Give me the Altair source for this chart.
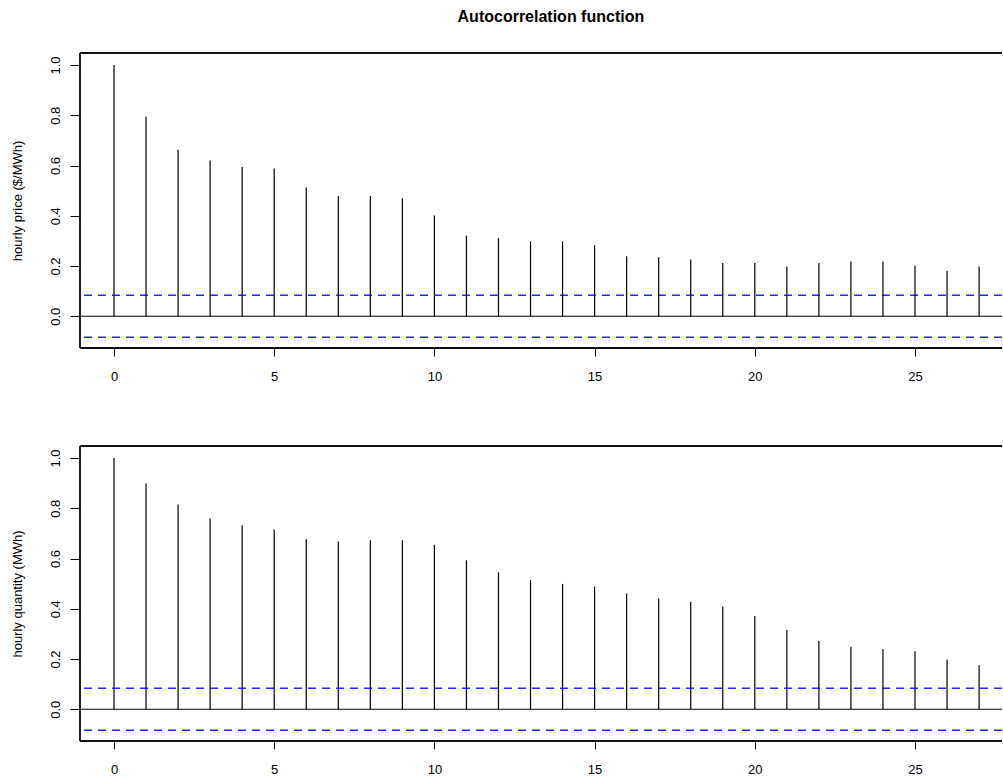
import altair as alt
import pandas as pd

lags = list(range(28))
price_acf = [1.0, 0.794, 0.663, 0.620, 0.594, 0.588, 0.513, 0.479, 0.479, 0.470,
             0.401, 0.321, 0.311, 0.298, 0.298, 0.283, 0.239, 0.235, 0.226, 0.212,
             0.212, 0.198, 0.212, 0.218, 0.218, 0.202, 0.181, 0.198]
quantity_acf = [1.0, 0.899, 0.815, 0.759, 0.731, 0.716, 0.677, 0.668, 0.673, 0.673,
                0.655, 0.593, 0.545, 0.515, 0.499, 0.489, 0.461, 0.441, 0.427, 0.409,
                0.371, 0.315, 0.272, 0.249, 0.239, 0.231, 0.197, 0.175]
ci_bounds = [0.0835, -0.0835]
x_ticks = [0, 5, 10, 15, 20, 25]
y_ticks = [0.0, 0.2, 0.4, 0.6, 0.8, 1.0]

W = 922
H = 295
FONT = "Liberation Sans"
XDOM = [-1.061, 27.715]
YDOM = [-0.1265, 1.048]


def panel(values, ytitle):
    df = pd.DataFrame({"lag": lags, "acf": values, "zero": [0.0] * len(lags)})
    xs = alt.Scale(domain=XDOM, nice=False, zero=False)
    ys = alt.Scale(domain=YDOM, nice=False, zero=False)
    bars = alt.Chart(df).mark_rule(color="black", strokeWidth=1.2).encode(
        x=alt.X("lag:Q", scale=xs,
                axis=alt.Axis(values=x_ticks, title=None, grid=False, domain=False,
                              tickSize=8, tickColor="black", labelPadding=14,
                              labelFont=FONT, labelFontSize=13, labelColor="black",
                              labelFlush=False)),
        y=alt.Y("acf:Q", scale=ys,
                axis=alt.Axis(values=y_ticks, format=".1f", grid=False, domain=False,
                              tickSize=10, tickColor="black", labelPadding=11,
                              labelAngle=270, labelAlign="center",
                              labelBaseline="alphabetic",
                              labelFont=FONT, labelFontSize=13, labelColor="black",
                              title=ytitle, titleFont=FONT, titleFontSize=13,
                              titleFontWeight="normal", titleColor="black",
                              titleAngle=270, titleX=-63, titleY=H / 2,
                              titleAlign="center", titleBaseline="middle")),
        y2="zero:Q",
    )
    zero = alt.Chart(pd.DataFrame({"z": [0.0]})).mark_rule(
        color="black", strokeWidth=1.2).encode(y=alt.Y("z:Q", scale=ys))
    cidf = pd.DataFrame({"ci": ci_bounds})
    ci = alt.Chart(cidf).mark_rule(
        color="#0000ff", strokeWidth=1.5, strokeDash=[8, 6], opacity=0.85).encode(
        y=alt.Y("ci:Q", scale=ys))
    frame_top = alt.Chart(cidf).mark_rule(color="black", strokeWidth=1.3).encode(
        x=alt.value(0), x2=alt.value(W), y=alt.value(0))
    frame_bottom = alt.Chart(cidf).mark_rule(color="black", strokeWidth=1.3).encode(
        x=alt.value(0), x2=alt.value(W), y=alt.value(H))
    frame_left = alt.Chart(cidf).mark_rule(color="black", strokeWidth=1.3).encode(
        x=alt.value(0), y=alt.value(0), y2=alt.value(H))
    return alt.layer(bars, zero, ci, frame_top, frame_bottom, frame_left).properties(
        width=W, height=H)


top = panel(price_acf, "hourly price ($/MWh)")
bottom = panel(quantity_acf, "hourly quantity (MWh)")

chart = alt.vconcat(top, bottom, spacing=62).properties(
    title=alt.TitleParams("Autocorrelation function", font=FONT, fontSize=16,
                          fontWeight="bold", color="black", anchor="middle",
                          dx=44, offset=27),
    padding={"left": 11, "top": 9, "right": 0, "bottom": 0},
).configure_view(stroke=None).configure_concat(spacing=62)

chart.save("out.html", embed_options={"renderer": "svg", "actions": False})
